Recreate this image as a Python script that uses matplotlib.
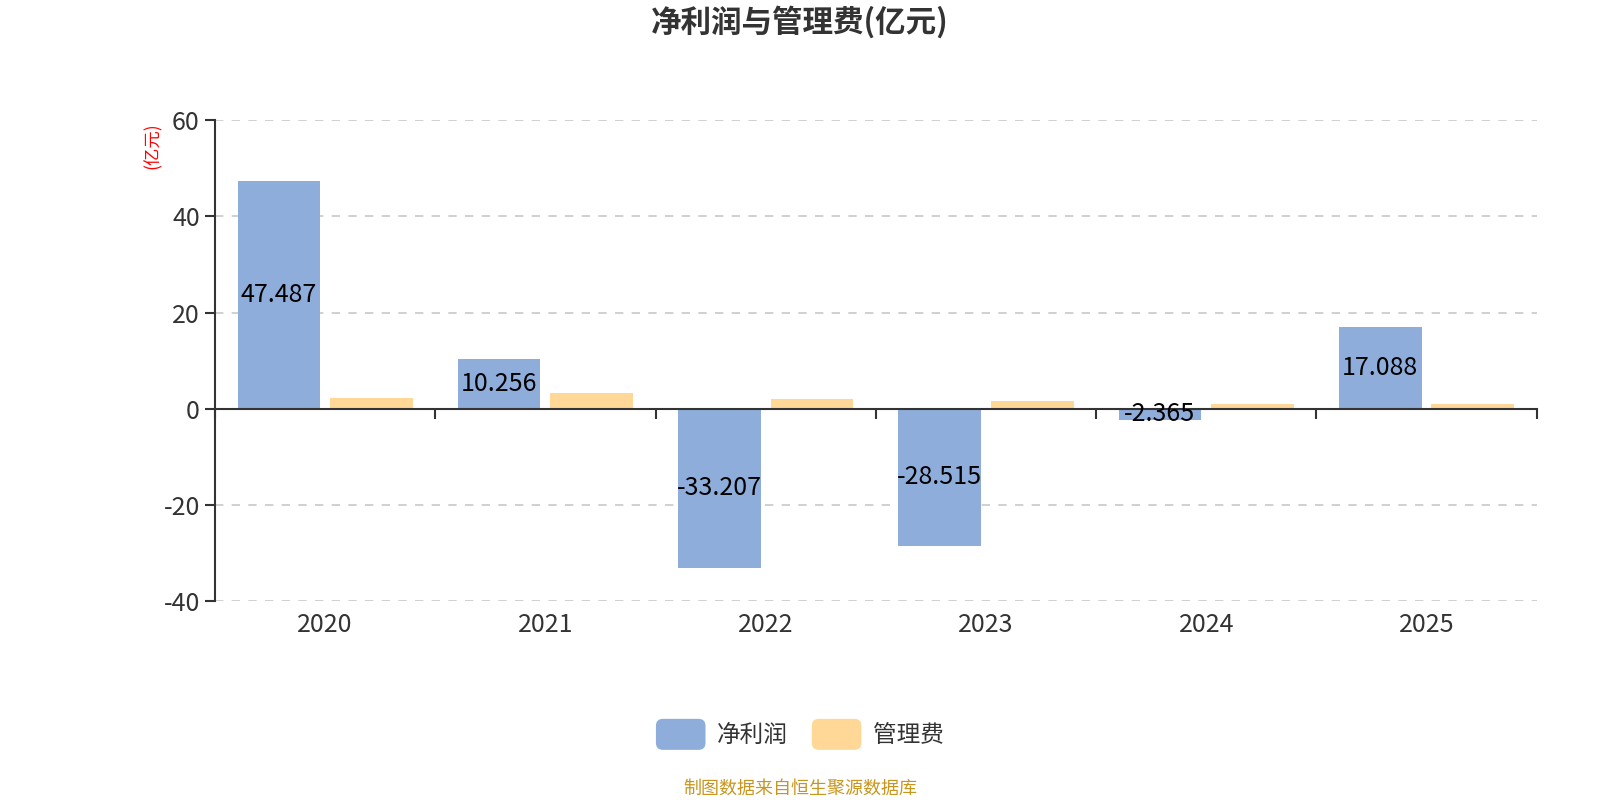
import matplotlib
matplotlib.use("Agg")
import matplotlib.pyplot as plt
import numpy as np
from matplotlib.patches import FancyBboxPatch
from matplotlib.legend_handler import HandlerPatch
import matplotlib.patches as mpatches

plt.rcParams['font.family'] = ['Noto Sans CJK SC', 'DejaVu Sans']

years = ['2020', '2021', '2022', '2023', '2024', '2025']
net_profit = [47.487, 10.256, -33.207, -28.515, -2.365, 17.088]
admin_fee = [2.2, 3.2, 2.0, 1.6, 1.05, 0.95]
series_names = ['净利润', '管理费']
yticks = [-40, -20, 0, 20, 40, 60]

blue = '#8EADDA'
orange = '#FFD797'
text_c = '#333333'

fig = plt.figure(figsize=(16, 8), dpi=100)
ax = fig.add_axes([0.1344, 0.249, 0.826, 0.6005])

x = np.arange(len(years))
w = 0.375
off = 0.21
b1 = ax.bar(x - off, net_profit, w, color=blue, label=series_names[0], zorder=3)
b2 = ax.bar(x + off, admin_fee, w, color=orange, label=series_names[1], zorder=3)
ax.bar_label(b1, labels=[f'{v:.3f}' for v in net_profit], label_type='center',
             fontsize=18, color='black', zorder=5)

ax.set_xlim(-0.5, len(years) - 0.5)
ax.set_ylim(-40, 60)
ax.set_yticks(yticks)
ax.set_yticklabels([str(v) for v in yticks], fontsize=18, color=text_c)
for v in yticks:
    if v != 0:
        ax.axhline(v, color='#c8c8c8', lw=1.2, ls=(0, (5, 5)), zorder=1)

for s in ['top', 'right']:
    ax.spines[s].set_visible(False)
ax.spines['left'].set_color(text_c)
ax.spines['left'].set_linewidth(1.5)
ax.spines['bottom'].set_position(('data', 0))
ax.spines['bottom'].set_color(text_c)
ax.spines['bottom'].set_linewidth(1.5)
ax.spines['bottom'].set_zorder(4)
ax.tick_params(axis='y', length=7, width=1.5, color=text_c, pad=4)
ax.set_xticks(np.arange(-0.5, len(years)))
ax.set_xticklabels([])
ax.tick_params(axis='x', length=7, width=1.5, color=text_c, direction='out')

sec = ax.secondary_xaxis(0.0)
sec.set_xticks(x)
sec.set_xticklabels(years, fontsize=18, color=text_c)
sec.tick_params(length=0, pad=8)
sec.spines['bottom'].set_visible(False)

ax.text(-0.047, 0.947, '(亿元)', transform=ax.transAxes, rotation=90,
        color='red', fontsize=12.5, ha='center', va='center')

fig.text(0.5, 0.972, '净利润与管理费(亿元)', ha='center', va='center',
         fontsize=22, fontweight='bold', color=text_c)
fig.text(0.5, 0.014, '制图数据来自恒生聚源数据库', ha='center', va='center',
         fontsize=13, color='#C8961E')


class RoundHandler(HandlerPatch):
    def create_artists(self, legend, orig_handle, xdescent, ydescent, width,
                       height, fontsize, trans):
        p = FancyBboxPatch((-xdescent, -ydescent - 3), width, height + 6,
                           boxstyle='round,pad=0,rounding_size=5',
                           facecolor=orig_handle.get_facecolor(),
                           edgecolor='none', transform=trans)
        return [p]


h1 = mpatches.Patch(facecolor=blue)
h2 = mpatches.Patch(facecolor=orange)
fig.legend([h1, h2], series_names, loc='center', bbox_to_anchor=(0.5, 0.081),
           ncol=2, frameon=False, fontsize=17, handlelength=2.1,
           handleheight=1.1, columnspacing=1.0, handletextpad=0.5,
           labelcolor=text_c,
           handler_map={mpatches.Patch: RoundHandler()})

fig.savefig('out.png', dpi=100)
